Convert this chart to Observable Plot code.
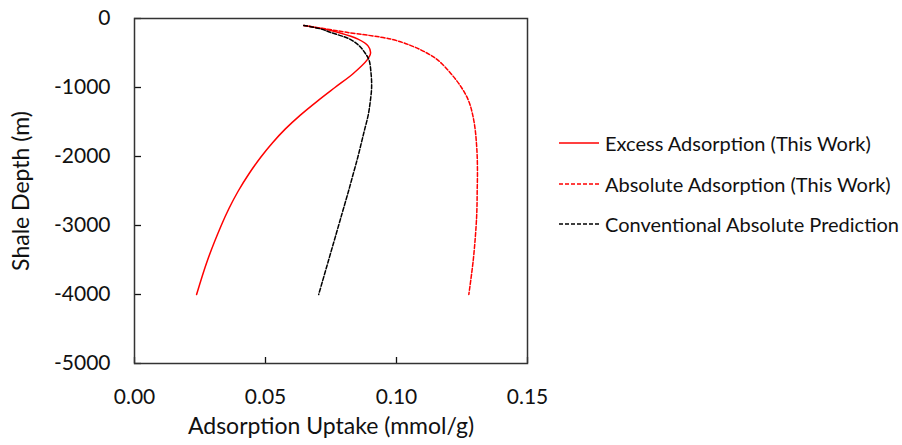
<!DOCTYPE html>
<html>
<head>
<meta charset="utf-8">
<script src="https://cdn.jsdelivr.net/npm/d3@7"></script>
<script src="https://cdn.jsdelivr.net/npm/@observablehq/plot@0.6"></script>
<style>
  html, body { margin: 0; padding: 0; background: #fff; }
  #wrap { position: relative; width: 902px; height: 445px; font-family: Lato, "Open Sans", sans-serif; }
  #legend { position: absolute; left: 559px; top: 123px; font-size: 20px; color: #111; }
  .row { display: flex; align-items: center; height: 40.5px; }
  .row svg { width: 40px; height: 10px; margin-right: 6px; }
</style>
</head>
<body>
<div id="wrap">
  <div id="chart"></div>
  <div id="legend"></div>
</div>
<script>
// Shale depth (m) at which each adsorption profile is sampled
const depth = [-100, -150, -200, -300, -400, -500, -600, -800, -1000, -1200, -1400, -1600, -1800, -2000, -2250, -2500, -2750, -3000, -3500, -4000];

// Adsorption uptake (mmol/g) along depth
const excessThisWork =       [0.0646, 0.0720, 0.0775, 0.0853, 0.0892, 0.0901, 0.0888, 0.0834, 0.0765, 0.0697, 0.0633, 0.0576, 0.0527, 0.0484, 0.0437, 0.0396, 0.0361, 0.0331, 0.0279, 0.0237];
const absoluteThisWork =     [0.0646, 0.0728, 0.0810, 0.0980, 0.1060, 0.1116, 0.1157, 0.1208, 0.1248, 0.1276, 0.1291, 0.1300, 0.1305, 0.1308, 0.1309, 0.1308, 0.1307, 0.1304, 0.1293, 0.1276];
const conventionalAbsolute = [0.0646, 0.0710, 0.0747, 0.0822, 0.0859, 0.0880, 0.0895, 0.0903, 0.0905, 0.0900, 0.0892, 0.0879, 0.0866, 0.0853, 0.0835, 0.0817, 0.0798, 0.0779, 0.0741, 0.0703];

const seriesNames = ["Excess Adsorption (This Work)", "Absolute Adsorption (This Work)", "Conventional Absolute Prediction"];
const seriesValues = [excessThisWork, absoluteThisWork, conventionalAbsolute];
const seriesStyles = [
  {stroke: "#ff0000", dash: null},
  {stroke: "#ff0000", dash: "4,2"},
  {stroke: "#000000", dash: "4,2"}
];

// Axis ticks
const xTicks = [0, 0.05, 0.10, 0.15];
const yTicks = [0, -1000, -2000, -3000, -4000, -5000];

const W = 902, H = 445;
const mL = 134, mR = 375, mT = 18, mB = 82;
const plotW = W - mL - mR, plotH = H - mT - mB;

const lines = seriesNames.map((name, i) => {
  const rows = depth.map((d, j) => ({depth: d, uptake: seriesValues[i][j]}));
  return Plot.line(rows, {
    x: "uptake", y: "depth",
    curve: "catmull-rom",
    stroke: seriesStyles[i].stroke,
    strokeWidth: 1.5,
    strokeDasharray: seriesStyles[i].dash
  });
});

const chart = Plot.plot({
  width: W, height: H,
  marginLeft: mL, marginRight: mR, marginTop: mT, marginBottom: mB,
  style: {fontFamily: "Lato, 'Open Sans', sans-serif", fontSize: "21px", color: "#111", background: "#fff"},
  x: {domain: [0, 0.15]},
  y: {domain: [-5000, 0]},
  marks: [
    Plot.axisX(xTicks, {
      tickSize: 0, tickPadding: 26, tickFormat: d3.format(".2f"),
      label: null, fontSize: 21
    }),
    Plot.axisX({
      ticks: [], tickSize: 0,
      label: "Adsorption Uptake (mmol/g)", labelAnchor: "center", labelArrow: "none", labelOffset: 70,
      fontSize: 23
    }),
    Plot.axisY(yTicks, {
      tickSize: 0, tickPadding: 24, tickFormat: d => `${d}`,
      label: null, fontSize: 21
    }),
    Plot.axisY({
      ticks: [], tickSize: 0,
      label: "Shale Depth (m)", labelAnchor: "center", labelArrow: "none", labelOffset: 122,
      fontSize: 23
    }),
    // inward tick marks
    Plot.tickX(xTicks, {x: d => d, stroke: "#111", strokeWidth: 1.3, insetTop: plotH - 6}),
    Plot.tickY(yTicks, {y: d => d, stroke: "#111", strokeWidth: 1.3, insetRight: plotW - 7}),
    ...lines,
    Plot.frame({stroke: "#333", strokeWidth: 1.5})
  ]
});
document.getElementById("chart").appendChild(chart);

// Legend
const legend = document.getElementById("legend");
seriesNames.forEach((name, i) => {
  const row = document.createElement("div");
  row.className = "row";
  const s = seriesStyles[i];
  row.innerHTML = `<svg viewBox="0 0 40 10"><line x1="0" y1="5" x2="40" y2="5" stroke="${s.stroke}" stroke-width="1.5" ${s.dash ? `stroke-dasharray="${s.dash}"` : ""}/></svg><span>${name}</span>`;
  legend.appendChild(row);
});
</script>
</body>
</html>
